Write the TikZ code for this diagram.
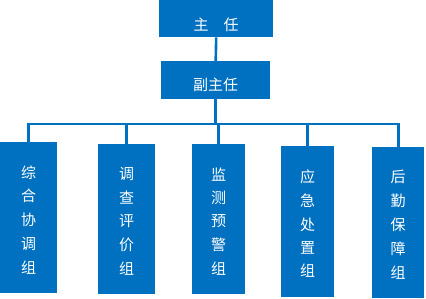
\documentclass[tikz,border=0pt]{standalone}
\usepackage{fontspec}
\newfontfamily\cjk{Noto Sans CJK SC}
\definecolor{boxblue}{HTML}{0070C0}
\newcommand{\vstack}[5]{\raisebox{-2pt}[\height][\depth]{\shortstack{#1\\[7pt]#2\\[7pt]#3\\[7pt]#4\\[7pt]#5}}}
\begin{document}
\begin{tikzpicture}[x=1pt,y=-1pt,
  orgbox/.style={fill=boxblue,draw=none,text=white,inner sep=0pt,anchor=north west,
    font=\cjk\fontsize{15}{24}\selectfont,align=center},
  link/.style={draw=boxblue,line width=2.6pt}]
\useasboundingbox (0,0) rectangle (426,299);
\node[orgbox,minimum width=114pt,minimum height=37pt] (top) at (159,0) {\raisebox{-6pt}[\height][\depth]{主\hspace{1em}任}};
\node[orgbox,minimum width=109pt,minimum height=38pt] (sub) at (161,61) {\raisebox{-5pt}[\height][\depth]{副主任}};
\node[orgbox,minimum width=57pt,minimum height=151pt] (g1) at (0,142) {\vstack{综}{合}{协}{调}{组}};
\node[orgbox,minimum width=57pt,minimum height=150pt] (g2) at (98,144) {\vstack{调}{查}{评}{价}{组}};
\node[orgbox,minimum width=53pt,minimum height=150pt] (g3) at (192,144) {\vstack{监}{测}{预}{警}{组}};
\node[orgbox,minimum width=53pt,minimum height=151pt] (g4) at (281,146) {\vstack{应}{急}{处}{置}{组}};
\node[orgbox,minimum width=52pt,minimum height=151pt] (g5) at (372,147) {\vstack{后}{勤}{保}{障}{组}};
\coordinate (bar) at (218,124);
\draw[link] (top.south) -- (sub.north);
\draw[link] (sub.south) -- (sub.south |- bar);
\draw[link] (g1.north) -- (g1.north |- bar) -- (g5.north |- bar) -- (g5.north);
\draw[link] (g2.north) -- (g2.north |- bar);
\draw[link] (g3.north) -- (g3.north |- bar);
\draw[link] (g4.north) -- (g4.north |- bar);
\end{tikzpicture}
\end{document}
